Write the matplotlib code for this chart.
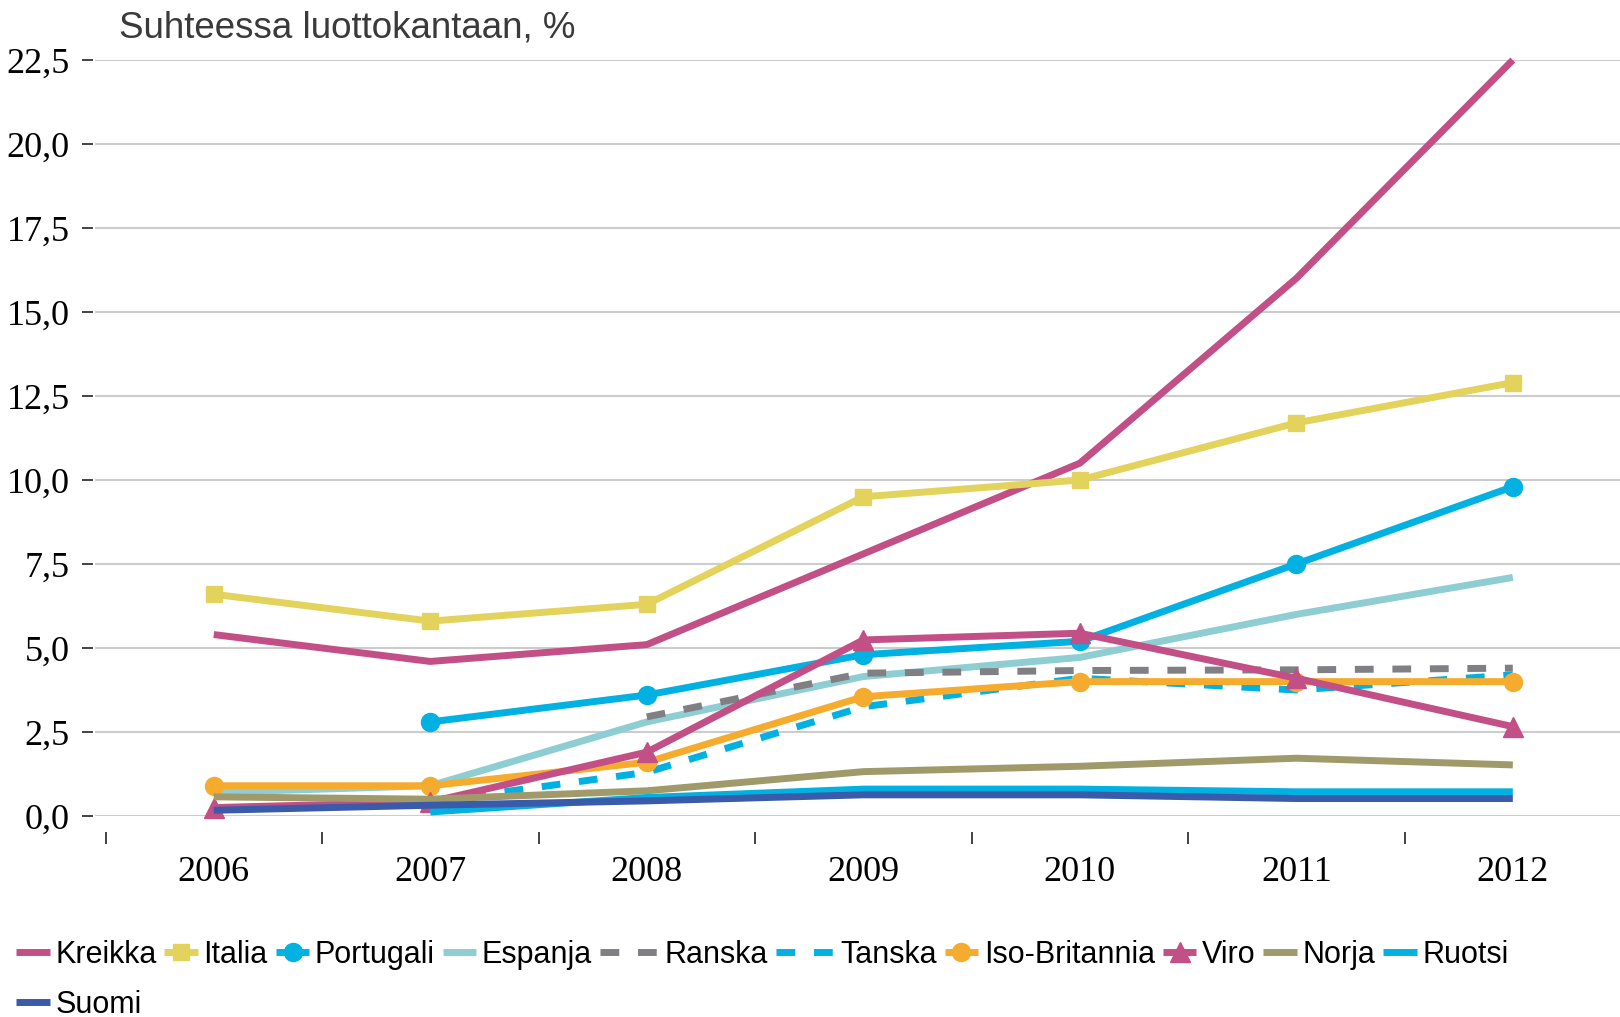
import numpy as np
import matplotlib
matplotlib.use("Agg")
import matplotlib.pyplot as plt
from matplotlib.legend_handler import HandlerLine2D
from matplotlib.ticker import FixedLocator, FuncFormatter

nan = np.nan

# Data (% of credit stock)
years = ["2006", "2007", "2008", "2009", "2010", "2011", "2012"]
kreikka = [5.4, 4.6, 5.1, 7.8, 10.5, 16.0, 22.5]
italia = [6.6, 5.8, 6.3, 9.5, 10.0, 11.7, 12.9]
portugali = [nan, 2.8, 3.6, 4.8, 5.2, 7.5, 9.8]
espanja = [0.7, 0.9, 2.8, 4.15, 4.72, 6.0, 7.1]
ranska = [nan, nan, 2.95, 4.25, 4.33, 4.35, 4.4]
tanska = [nan, 0.42, 1.3, 3.25, 4.1, 3.75, 4.2]
iso_britannia = [0.9, 0.9, 1.6, 3.55, 4.0, 4.0, 4.0]
viro = [0.25, 0.42, 1.9, 5.24, 5.44, 4.1, 2.66]
norja = [0.57, 0.5, 0.75, 1.32, 1.48, 1.72, 1.52]
ruotsi = [nan, 0.12, 0.55, 0.8, 0.8, 0.72, 0.72]
suomi = [0.17, 0.32, 0.45, 0.63, 0.63, 0.52, 0.52]

y_ticks = [0, 2.5, 5, 7.5, 10, 12.5, 15, 17.5, 20, 22.5]
title = "Suhteessa luottokantaan, %"

pink = "#C24F86"
cyan = "#00B1E1"

series = [
    ("Kreikka", kreikka, dict(color=pink)),
    ("Italia", italia, dict(color="#E3D25B", marker="s", ms=12)),
    ("Portugali", portugali, dict(color=cyan, marker="o", ms=13)),
    ("Espanja", espanja, dict(color="#8ECED3")),
    ("Ranska", ranska, dict(color="#7F7F84", dashes=(2.7, 2.7))),
    ("Tanska", tanska, dict(color=cyan, dashes=(2.7, 2.7))),
    ("Iso-Britannia", iso_britannia, dict(color="#F5AC2E", marker="o", ms=13)),
    ("Viro", viro, dict(color=pink, marker="^", ms=14)),
    ("Norja", norja, dict(color="#A09A6B")),
    ("Ruotsi", ruotsi, dict(color=cyan)),
    ("Suomi", suomi, dict(color="#3A5BA9")),
]


class WideHandler(HandlerLine2D):
    """Longer legend handle for the dashed series."""
    def legend_artist(self, legend, orig_handle, fontsize, handlebox):
        handlebox.width *= 1.75
        return super().legend_artist(legend, orig_handle, fontsize, handlebox)


fig = plt.figure(figsize=(16.2, 10.17), dpi=100)
ax = fig.add_axes([95 / 1620, 1 - 816 / 1017, 1525 / 1620, 756 / 1017])

x = np.arange(len(years))
handles = {}
for name, values, style in series:
    line, = ax.plot(x, values, lw=5, clip_on=False, solid_capstyle="butt",
                    label=name, **style)
    handles[name] = line

ax.set_xlim(-0.5485, 6.495)
ax.set_ylim(0, 22.5)

# y axis: comma decimals, grey grid
ax.yaxis.set_major_locator(FixedLocator(y_ticks))
ax.yaxis.set_major_formatter(FuncFormatter(lambda v, p: f"{v:.1f}".replace(".", ",")))
ax.grid(True, axis="y", color="#CCCCCC", lw=1.5)
ax.set_axisbelow(True)
ax.tick_params(axis="y", length=8, width=1.2, color="#222222", pad=8.5,
               labelsize=26, labelfontfamily="Liberation Serif")

# x axis: ticks between categories, labels at category centres
ax.xaxis.set_major_locator(FixedLocator(np.arange(-0.5, 6, 1.0)))
ax.xaxis.set_minor_locator(FixedLocator(x))
ax.xaxis.set_major_formatter(FuncFormatter(lambda v, p: ""))
ax.xaxis.set_minor_formatter(FuncFormatter(lambda v, p: years[int(round(v))]))
ax.tick_params(axis="x", which="major", length=8.6, width=1.2, color="#222222")
ax.tick_params(axis="x", which="minor", length=0, pad=17.5, labelsize=26,
               labelfontfamily="Liberation Serif")

ax.spines["bottom"].set_position(("outward", 11.5))
ax.spines["left"].set_position(("outward", 1.5))
for side in ["top", "right", "bottom", "left"]:
    ax.spines[side].set_visible(False)

fig.text(119 / 1620, 1 - 37 / 1017, title, fontsize=26.5, color="#3A3A3A",
         family="Liberation Sans", va="baseline", ha="left")

# legend: column-major fill, so Suomi goes under Kreikka
order = ["Kreikka", "Suomi", "Italia", "Portugali", "Espanja", "Ranska", "Tanska",
         "Iso-Britannia", "Viro", "Norja", "Ruotsi"]
leg = fig.legend([handles[n] for n in order], order, loc="upper left",
                 bbox_to_anchor=(16 / 1620, 1 - 940 / 1017), ncol=10, frameon=False,
                 borderpad=0, borderaxespad=0, handlelength=1.1, handletextpad=0.18,
                 columnspacing=0.26, labelspacing=0.65,
                 prop={"family": "Liberation Sans", "size": 22},
                 handler_map={handles["Ranska"]: WideHandler(),
                              handles["Tanska"]: WideHandler()})

fig.savefig("out.png", dpi=100)
